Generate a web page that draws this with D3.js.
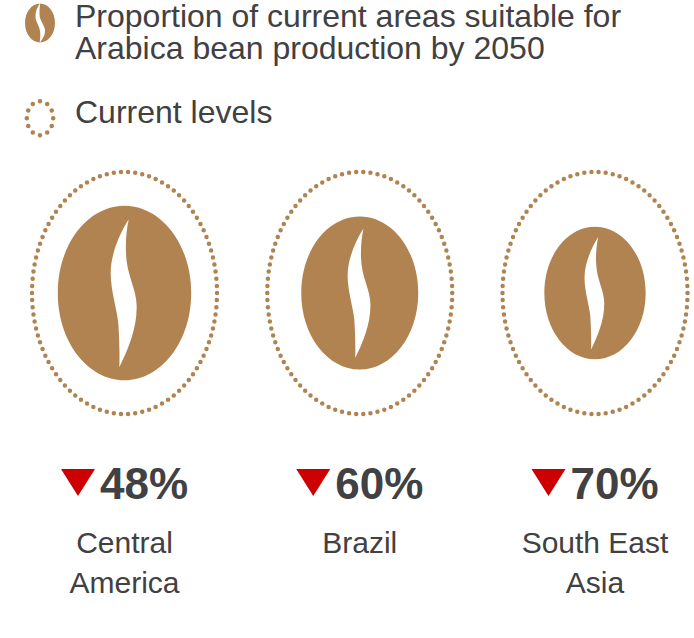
<!DOCTYPE html>
<html>
<head>
<meta charset="utf-8">
<script src="https://cdnjs.cloudflare.com/ajax/libs/d3/7.8.5/d3.min.js"></script>
<style>
  body { margin: 0; background: #fff; }
  text { font-family: "Liberation Sans", Arial, sans-serif; fill: #414042; }
</style>
</head>
<body>
<div id="chart"></div>
<script>
const regions = ["Central America", "Brazil", "South East Asia"];
const regionLines = [["Central", "America"], ["Brazil"], ["South East", "Asia"]];
const lossPct = [48, 60, 70];
const legendLines = ["Proportion of current areas suitable for", "Arabica bean production by 2050"];
const legendRing = "Current levels";

let w = 694;
let h = 638;
const brown = "#b08350";
const red = "#cc0000";
const centerY = 293;
const ringRx = 92.5;
const ringRy = 121;

// slit outlines as bezier segments, in units of the bean's radii
const bigSlit = [
  [.063, -.844],
  [-.07, -.68, -.207, -.45, -.207, -.226],
  [-.207, -.03, -.11, .2, -.093, .344],
  [-.08, .5, -.07, .7, -.078, .851],
  [.05, .65, .183, .42, .183, .157],
  [.183, -.05, .03, -.2, .022, -.458],
  [.015, -.6, .03, -.72, .063, -.844]
];
const smallSlit = [
  [.02, -1.02],
  [-.2, -.8, -.32, -.55, -.3, -.3],
  [-.28, -.05, .02, .2, .02, .55],
  [.03, .7, 0, .85, -.02, 1.02],
  [.2, .8, .36, .6, .33, .35],
  [.3, .1, .02, -.1, -.02, -.35],
  [-.05, -.55, -.03, -.8, .02, -1.02]
];

const svg = d3.select("#chart")
              .append("svg")
              .attr("width", w)
              .attr("height", h)
              .style("display", "block");

const xScale = d3.scalePoint()
                 .domain(regions)
                 .range([124.5, 595]);

// bean area shows what is left of the current area, the ring is 100%
const rxScale = d3.scaleSqrt().domain([0, 100]).range([0, ringRx]);
const ryScale = d3.scaleSqrt().domain([0, 100]).range([0, ringRy]);

function beanPath(rx, ry, slit) {
  const p = d3.path();
  p.moveTo(-rx, 0);
  p.bezierCurveTo(-rx, -ry * 0.56, -rx * 0.55, -ry, 0, -ry);
  p.bezierCurveTo(rx * 0.55, -ry, rx, -ry * 0.56, rx, 0);
  p.bezierCurveTo(rx, ry * 0.56, rx * 0.55, ry, 0, ry);
  p.bezierCurveTo(-rx * 0.55, ry, -rx, ry * 0.56, -rx, 0);
  p.closePath();
  p.moveTo(slit[0][0] * rx, slit[0][1] * ry);
  slit.slice(1).forEach(s => {
    p.bezierCurveTo(s[0] * rx, s[1] * ry, s[2] * rx, s[3] * ry, s[4] * rx, s[5] * ry);
  });
  p.closePath();
  return p.toString();
}

function dottedRing(parent, cx, cy, rx, ry, count, width) {
  parent.append("ellipse")
        .attr("cx", cx)
        .attr("cy", cy)
        .attr("rx", rx)
        .attr("ry", ry)
        .attr("fill", "none")
        .attr("stroke", brown)
        .attr("stroke-width", width)
        .attr("stroke-linecap", "round")
        .attr("pathLength", count)
        .attr("stroke-dasharray", "0 1");
}

// legend
svg.append("path")
   .attr("transform", "translate(40, 23)")
   .attr("d", beanPath(15, 19.5, smallSlit))
   .attr("fill", brown)
   .attr("fill-rule", "evenodd");

svg.selectAll(".legend-line")
   .data(legendLines)
   .enter()
   .append("text")
   .attr("class", "legend-line")
   .attr("x", 75)
   .attr("y", (d, i) => 27 + i * 32)
   .attr("font-size", 32)
   .text(d => d);

dottedRing(svg, 40, 118.3, 13.2, 17, 12, 4.6);

svg.append("text")
   .attr("x", 75)
   .attr("y", 123)
   .attr("font-size", 32)
   .text(legendRing);

// one group per region
const groups = svg.selectAll(".region")
                  .data(regions)
                  .enter()
                  .append("g")
                  .attr("class", "region")
                  .attr("transform", d => "translate(" + xScale(d) + ", 0)");

groups.each(function(d) {
  dottedRing(d3.select(this), 0, centerY, ringRx, ringRy, 94, 4.5);
});

groups.append("path")
      .attr("transform", "translate(0, " + centerY + ")")
      .attr("d", (d, i) => beanPath(rxScale(100 - lossPct[i]), ryScale(100 - lossPct[i]), bigSlit))
      .attr("fill", brown)
      .attr("fill-rule", "evenodd");

groups.append("path")
      .attr("d", "M-63.5,469L-29.5,469L-46.5,496Z")
      .attr("fill", red);

groups.append("text")
      .attr("x", -24.5)
      .attr("y", 499)
      .attr("font-size", 44)
      .attr("font-weight", "bold")
      .text((d, i) => lossPct[i] + "%");

groups.each(function(d, i) {
  d3.select(this).selectAll(".label")
    .data(regionLines[i])
    .enter()
    .append("text")
    .attr("class", "label")
    .attr("text-anchor", "middle")
    .attr("y", (l, j) => 553 + j * 40)
    .attr("font-size", 30)
    .text(l => l);
});
</script>
</body>
</html>
